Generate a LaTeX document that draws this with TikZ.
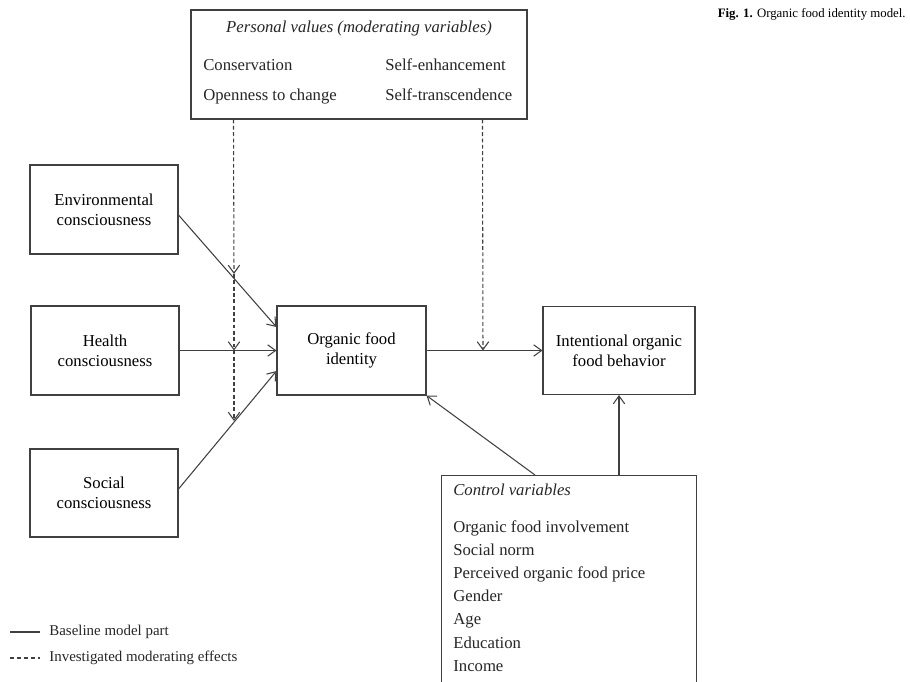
\documentclass[tikz,border=0pt]{standalone}
\usepackage{fontspec}
\setmainfont{Liberation Serif}
\usetikzlibrary{arrows.meta,calc}
\begin{document}
\begin{tikzpicture}[x=0.02cm,y=-0.02cm,
  box/.style={draw=black!75,line width=0.6pt,inner sep=0pt,align=center,
    font=\fontsize{9.5}{11.4}\selectfont},
  txt/.style={inner sep=0pt,font=\fontsize{9.5}{11.4}\selectfont,text=black!85},
  lgd/.style={inner sep=0pt,font=\fontsize{8.5}{10}\selectfont,text=black!85,anchor=base west},
  conn/.style={draw=black!75,line width=0.6pt,-{Straight Barb[length=4.5pt,width=6.5pt]}},
  mod/.style={conn,dash pattern=on 2.2pt off 1.4pt},
]
\useasboundingbox (0,0) rectangle (910,681);
\clip (0,0) rectangle (910,681);

% caption
\node[inner sep=0pt,font=\fontsize{7.3}{8.5}\selectfont,anchor=base east] (cap) at (906,17)
  {\textbf{Fig. 1.} Organic food identity model.};

% personal values box
\node[box,minimum width=336*0.02cm,minimum height=109*0.02cm] (pv) at (359,64.5) {};
\node[txt,anchor=base] (pvt) at (359,32) {\itshape Personal values (moderating variables)};
\node[txt,anchor=base west] (pv1) at (203,70) {Conservation};
\node[txt,anchor=base west] (pv2) at (203,100) {Openness to change};
\node[txt,anchor=base west] (pv3) at (385,70) {Self-enhancement};
\node[txt,anchor=base west] (pv4) at (385,100) {Self-transcendence};

% left boxes
\node[box,minimum width=148*0.02cm,minimum height=89*0.02cm] (env) at (104,209.5) {Environmental\\consciousness};
\node[box,minimum width=148*0.02cm,minimum height=89*0.02cm] (hea) at (105,350.5) {Health\\consciousness};
\node[box,minimum width=148*0.02cm,minimum height=88*0.02cm] (soc) at (104,493) {Social\\consciousness};

% centre boxes
\node[box,minimum width=149*0.02cm,minimum height=89*0.02cm] (ofi) at (351.5,350.5) {Organic food\\identity};
\node[box,minimum width=152*0.02cm,minimum height=88*0.02cm] (int) at (619,350.5) {Intentional organic\\food behavior};

% control box (extends beyond the bottom edge)
\node[box,minimum width=255*0.02cm,minimum height=240*0.02cm,anchor=north west] (ctl) at (441,475) {};
\node[txt,anchor=base west] (ctt) at (453,495) {\itshape Control variables};
\foreach \t [count=\i] in {Organic food involvement,Social norm,Perceived organic food price,Gender,Age,Education,Income}{
  \node[txt,anchor=base west] (c\i) at (453,{532+23.2*(\i-1)}) {\t};
}

% baseline connectors
\draw[conn] ($(env.east)+(0,5.5)$) -- ($(ofi.west)+(0,-23.5)$);
\draw[conn] (hea.east) -- (ofi.west);
\draw[conn] ($(soc.east)+(0,-4)$) -- ($(ofi.west)+(0,20.5)$);
\draw[conn] (ofi.east) -- (int.west);
\coordinate (cl) at ($(ctl.north west)+(94,0)$);
\draw[conn] (cl) -- (ofi.south east);
\draw[conn] (int.south |- ctl.north) -- (int.south);

% moderating effects
\coordinate (mL) at ($(pv.south west)+(43,0)$);
\coordinate (m1) at (234,274);
\coordinate (m2) at (234,350.5);
\coordinate (m3) at (234,421);
\draw[mod] (mL) -- (m1);
\draw[mod] (m1) -- (m2);
\draw[mod] (m2) -- (m3);
\coordinate (mR) at ($(pv.south west)+(292,0)$);
\coordinate (m4) at (483,350.5);
\draw[mod] (mR) -- (m4);

% legend
\coordinate (l1a) at (10,632); \coordinate (l1b) at (40,632);
\coordinate (l2a) at (10,658); \coordinate (l2b) at (40,658);
\draw[draw=black!75,line width=0.6pt] (l1a) -- (l1b);
\draw[draw=black!75,line width=0.6pt,dash pattern=on 2.2pt off 1.8pt] (l2a) -- (l2b);
\node[lgd] (lg1) at (49,635.5) {Baseline model part};
\node[lgd] (lg2) at (49,661.5) {Investigated moderating effects};
\end{tikzpicture}
\end{document}
